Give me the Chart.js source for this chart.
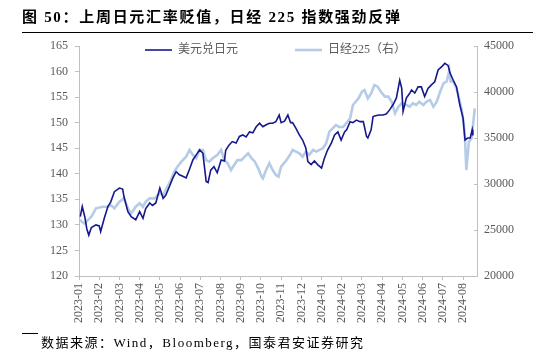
<!DOCTYPE html>
<html><head><meta charset="utf-8">
<script src="https://cdn.jsdelivr.net/npm/chart.js@4.4.1/dist/chart.umd.min.js"></script>
<style>
html,body{margin:0;padding:0;background:#fff;}
#wrap{position:relative;width:553px;height:357px;overflow:hidden;background:#fff;}
#c{position:absolute;left:0;top:0;}
#title{position:absolute;left:22px;top:8px;font:bold 15px "Liberation Serif","Noto Sans CJK SC";letter-spacing:1.7px;color:#000;white-space:nowrap;line-height:18px;}
#rule{position:absolute;left:22px;top:32px;width:511px;height:1px;background:#000;}
#srcrule{position:absolute;left:22px;top:333px;width:16px;height:1px;background:#000;}
#src{position:absolute;left:41px;top:335px;font:13px "Liberation Serif","Noto Sans CJK SC";letter-spacing:1.5px;color:#000;white-space:nowrap;line-height:16px;}
</style>
</head><body>
<div id="wrap">
<canvas id="c" width="553" height="357"></canvas>
<div id="title">图 50：上周日元汇率贬值，日经 225 指数强劲反弹</div>
<div id="rule"></div>
<div id="srcrule"></div>
<div id="src">数据来源：Wind，Bloomberg，国泰君安证券研究</div>
</div>
<script>
const tickLabels = ['2023-01','2023-02','2023-03','2023-04','2023-05','2023-06','2023-07','2023-08','2023-09','2023-10','2023-11','2023-12','2024-01','2024-02','2024-03','2024-04','2024-05','2024-06','2024-07','2024-08'];
const seriesNames = ['美元兑日元', '日经225（右）'];

const usdDates = ['2023-01-03','2023-01-06','2023-01-10','2023-01-13','2023-01-16','2023-01-20','2023-01-27','2023-02-01','2023-02-03','2023-02-08','2023-02-13','2023-02-17','2023-02-22','2023-03-01','2023-03-06','2023-03-08','2023-03-14','2023-03-19','2023-03-26','2023-04-01','2023-04-06','2023-04-10','2023-04-16','2023-04-20','2023-04-25','2023-05-01','2023-05-06','2023-05-10','2023-05-16','2023-05-21','2023-05-26','2023-05-31','2023-06-05','2023-06-10','2023-06-15','2023-06-20','2023-06-25','2023-06-30','2023-07-05','2023-07-10','2023-07-13','2023-07-17','2023-07-22','2023-07-27','2023-08-02','2023-08-07','2023-08-09','2023-08-14','2023-08-19','2023-08-25','2023-08-30','2023-09-04','2023-09-09','2023-09-14','2023-09-19','2023-09-24','2023-09-29','2023-10-04','2023-10-09','2023-10-14','2023-10-19','2023-10-24','2023-10-29','2023-11-01','2023-11-06','2023-11-11','2023-11-15','2023-11-18','2023-11-23','2023-11-28','2023-12-03','2023-12-08','2023-12-11','2023-12-16','2023-12-21','2023-12-26','2024-01-01','2024-01-05','2024-01-10','2024-01-16','2024-01-21','2024-01-26','2024-01-31','2024-02-05','2024-02-08','2024-02-13','2024-02-17','2024-02-22','2024-02-27','2024-03-03','2024-03-08','2024-03-10','2024-03-15','2024-03-18','2024-03-23','2024-03-28','2024-04-02','2024-04-07','2024-04-12','2024-04-17','2024-04-22','2024-04-27','2024-04-30','2024-05-02','2024-05-07','2024-05-12','2024-05-15','2024-05-20','2024-05-25','2024-05-30','2024-06-04','2024-06-09','2024-06-14','2024-06-19','2024-06-24','2024-06-29','2024-07-04','2024-07-09','2024-07-12','2024-07-17','2024-07-22','2024-07-27','2024-08-01','2024-08-04','2024-08-08','2024-08-12','2024-08-15','2024-08-16'];
const usdValues = [131.6,133.6,131.5,129.2,128.0,129.5,130.0,129.8,128.7,131.3,133.6,134.5,136.5,137.2,137.0,135.5,132.6,131.6,131.0,132.6,131.3,133.2,134.3,133.8,134.3,137.2,135.2,135.8,137.6,139.2,140.4,139.8,139.5,139.2,140.9,142.7,143.7,144.7,144.0,138.5,138.3,140.7,141.4,140.2,142.7,142.5,144.6,145.6,146.3,146.0,147.3,147.6,147.2,148.2,148.0,149.2,149.9,149.2,149.6,149.9,149.9,150.2,151.5,150.0,150.3,151.5,150.0,150.0,148.9,147.6,146.6,145.0,142.4,141.8,142.5,141.8,141.1,142.9,144.6,146.0,147.6,148.2,146.6,148.2,148.6,150.2,150.0,150.5,150.2,150.2,147.3,147.0,148.6,151.2,151.4,151.5,151.5,151.7,152.5,153.5,154.8,158.3,156.7,152.2,154.8,155.7,156.4,155.8,157.0,157.0,155.1,156.7,157.4,158.0,160.3,160.9,161.6,161.2,159.7,158.3,157.0,153.5,150.9,146.6,147.0,147.0,148.6,147.5];

const nkDates = ['2023-01-02','2023-01-09','2023-01-20','2023-01-27','2023-02-06','2023-02-13','2023-02-17','2023-02-22','2023-03-01','2023-03-08','2023-03-14','2023-03-19','2023-03-26','2023-04-01','2023-04-06','2023-04-10','2023-04-16','2023-04-23','2023-05-01','2023-05-06','2023-05-10','2023-05-18','2023-05-23','2023-05-28','2023-06-03','2023-06-10','2023-06-15','2023-06-20','2023-06-25','2023-06-30','2023-07-05','2023-07-10','2023-07-15','2023-07-20','2023-07-27','2023-08-02','2023-08-07','2023-08-12','2023-08-17','2023-08-22','2023-08-27','2023-09-02','2023-09-07','2023-09-12','2023-09-17','2023-09-22','2023-09-27','2023-10-02','2023-10-04','2023-10-09','2023-10-14','2023-10-19','2023-10-24','2023-10-28','2023-11-01','2023-11-09','2023-11-14','2023-11-18','2023-11-23','2023-11-28','2023-12-03','2023-12-08','2023-12-13','2023-12-19','2023-12-24','2023-12-29','2024-01-03','2024-01-08','2024-01-13','2024-01-18','2024-01-23','2024-01-28','2024-02-03','2024-02-13','2024-02-17','2024-02-25','2024-03-01','2024-03-05','2024-03-10','2024-03-15','2024-03-20','2024-03-25','2024-03-30','2024-04-05','2024-04-10','2024-04-15','2024-04-20','2024-04-25','2024-04-30','2024-05-07','2024-05-12','2024-05-17','2024-05-22','2024-05-27','2024-06-02','2024-06-07','2024-06-12','2024-06-17','2024-06-22','2024-06-27','2024-07-02','2024-07-07','2024-07-11','2024-07-13','2024-07-17','2024-07-22','2024-07-27','2024-07-30','2024-08-02','2024-08-04','2024-08-06','2024-08-10','2024-08-14','2024-08-16','2024-08-19'];
const nkValues = [26090,25700,26450,27360,27530,27530,27710,27360,28080,28440,27360,26800,27530,27900,27530,28080,28440,28440,29000,28800,29350,30430,31340,31880,32430,32970,33700,33150,32800,33700,33700,32600,32430,32800,33150,33700,32600,32250,31520,32070,32600,32600,32970,33340,32800,32430,31700,30800,30620,31520,32250,31520,30980,30800,31880,32600,33150,33700,33520,33340,32970,33520,33150,33700,33520,33700,33880,34420,35690,36050,36410,36200,36200,37140,38590,39300,40030,40200,39300,39850,40760,40580,40030,39500,39500,38950,37680,38400,38770,38590,38400,38770,38590,38950,38590,38950,39130,38400,38950,40030,40940,41150,42390,41150,41150,40400,38950,38040,36570,34970,31520,34600,34970,36230,38220];

function monthPos(d){
  const p = d.split('-').map(Number);
  const dim = new Date(p[0], p[1], 0).getDate();
  return (p[0]-2023)*12 + (p[1]-1) + (p[2]-1)/dim;
}
const usdData = usdDates.map((d,i)=>({x:monthPos(d), y:usdValues[i]}));
const nkData = nkDates.map((d,i)=>({x:monthPos(d), y:nkValues[i]}));

const FONT = '"Liberation Serif","Noto Sans CJK SC"';
const axisColor = '#bfbfbf';
const textColor = '#595959';
const LEG_PAD = 57;

const legendMover = {
  id:'legendMover',
  afterLayout(chart){
    const lg = chart.legend;
    if(!lg) return;
    const top = 50 - LEG_PAD - 6;
    lg.top = top; lg.bottom = top + LEG_PAD + 30; lg.height = LEG_PAD + 30;
    lg.left = 145 - LEG_PAD; lg.right = 553; lg.width = lg.right - lg.left;
  }
};

new Chart(document.getElementById('c'), {
  type:'line',
  data:{
    datasets:[
      {label:seriesNames[0], data:usdData, yAxisID:'y', borderColor:'#16188c', backgroundColor:'#16188c', borderWidth:1.6, pointRadius:0, tension:0, fill:false},
      {label:seriesNames[1], data:nkData, yAxisID:'y1', borderColor:'#b5cbe7', backgroundColor:'#b5cbe7', borderWidth:2.6, pointRadius:0, tension:0, fill:false}
    ]
  },
  options:{
    responsive:false, animation:false, devicePixelRatio:1,
    layout:{padding:{top:45,left:0,right:0,bottom:0}},
    plugins:{
      legend:{display:true, position:'top', align:'start', maxHeight:1,
        labels:{usePointStyle:true, pointStyle:'line', pointStyleWidth:27, padding:LEG_PAD, color:textColor, font:{family:FONT, size:12}}},
      tooltip:{enabled:false}
    },
    scales:{
      x:{type:'linear', min:0, max:19.69,
        afterBuildTicks:(s)=>{ s.ticks = tickLabels.map((_,i)=>({value:i})); },
        afterFit:(s)=>{ s.height = 81; },
        ticks:{autoSkip:false, minRotation:90, maxRotation:90, padding:3, color:textColor, font:{family:FONT, size:12},
          callback:(v)=>tickLabels[v] !== undefined ? tickLabels[v] : ''},
        grid:{drawOnChartArea:false, drawTicks:true, tickLength:4, color:axisColor},
        border:{color:axisColor}
      },
      y:{position:'left', min:120, max:165,
        afterFit:(s)=>{ s.width = 79; },
        ticks:{stepSize:5, padding:7, color:textColor, font:{family:FONT, size:12}, callback:(v)=>String(v)},
        grid:{drawOnChartArea:false, drawTicks:true, tickLength:4, color:axisColor},
        border:{color:axisColor}
      },
      y1:{position:'right', min:20000, max:45000,
        afterFit:(s)=>{ s.width = 76; },
        ticks:{stepSize:5000, padding:10, color:textColor, font:{family:FONT, size:12}, callback:(v)=>String(v)},
        grid:{drawOnChartArea:false, drawTicks:true, tickLength:-3, color:axisColor},
        border:{color:axisColor}
      }
    }
  },
  plugins:[legendMover]
});
</script>
</body></html>
